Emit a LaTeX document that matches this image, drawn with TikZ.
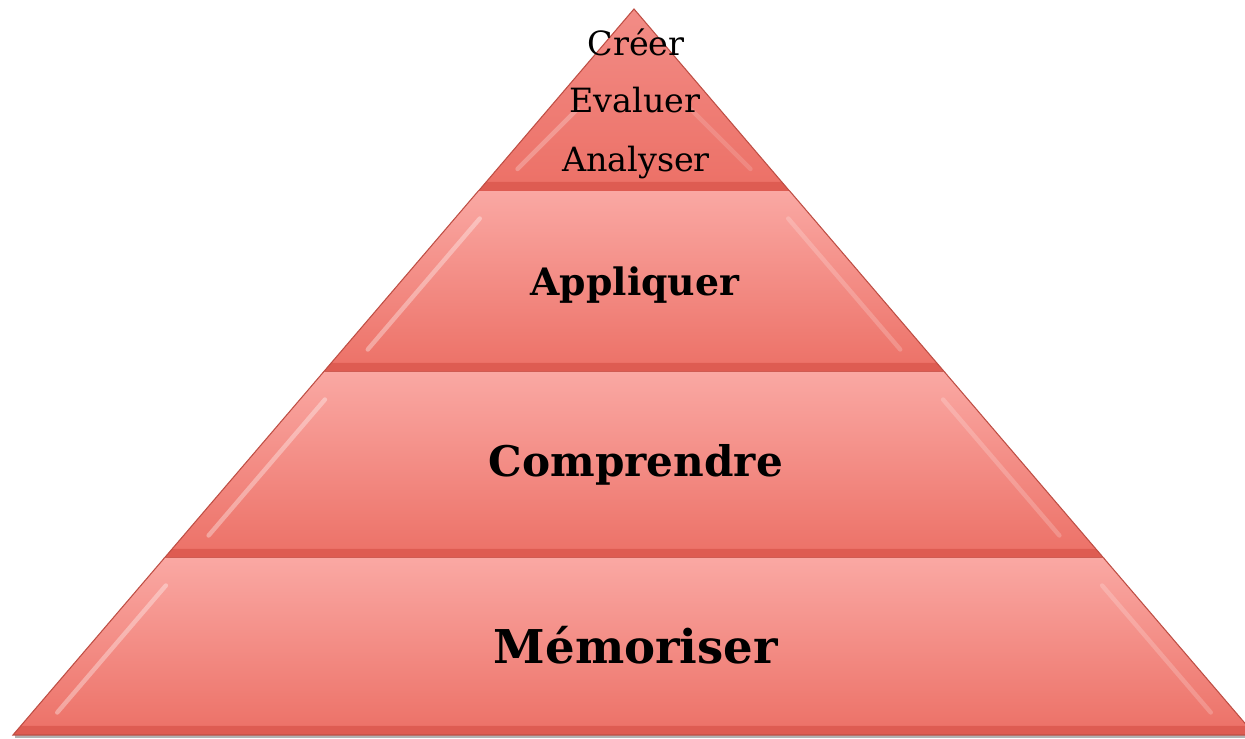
\documentclass[tikz,border=0pt]{standalone}
\usepackage{fontspec}
\setmainfont{DejaVu Serif}
\usepackage{xcolor}

\definecolor{bandlight}{RGB}{250,168,163}
\definecolor{banddark}{RGB}{236,112,102}
\definecolor{bandedge}{RGB}{222,92,82}
\definecolor{bandline}{RGB}{190,78,68}
\definecolor{toplight}{RGB}{242,140,134}

\begin{document}
\begin{tikzpicture}
  \useasboundingbox (0,0) rectangle (24.9,14.78);
  \tikzstyle{layer}=[top color=bandlight,bottom color=banddark]
  \tikzstyle{rim}=[fill=bandedge]
  \tikzstyle{shine}=[white,opacity=0.35,line width=2.5pt,line cap=round]
  \tikzstyle{small}=[font=\fontsize{19}{22}\selectfont]
  \tikzstyle{big}=[font=\bfseries\fontsize{24}{28}\selectfont]
  % shadow under the base
  \draw[gray!60,line width=1.2pt] (0.3,0.05) -- (25.1,0.05);
  % the three lower layers
  \foreach \yt/\yb in {10.96/7.34, 7.34/3.62, 3.62/0.08}{
    \pgfmathsetmacro\wt{(14.6-\yt)*0.8554}
    \pgfmathsetmacro\wb{(14.6-\yb)*0.8554}
    \pgfmathsetmacro\wr{(14.6-\yb-0.18)*0.8554}
    \pgfmathsetmacro\ws{(14.6-\yt+0.55)*0.8554}
    \pgfmathsetmacro\we{(14.6-\yb-0.45)*0.8554}
    \shade[layer] (12.68-\wt,\yt) -- (12.68+\wt,\yt) -- (12.68+\wb,\yb) -- (12.68-\wb,\yb) -- cycle;
    \fill[rim] (12.68-\wr,\yb+0.18) -- (12.68+\wr,\yb+0.18) -- (12.68+\wb,\yb) -- (12.68-\wb,\yb) -- cycle;
    \draw[shine] (12.68-\ws+0.5,\yt-0.55) -- (12.68-\we+0.5,\yb+0.45);
    \draw[shine,opacity=0.2] (12.68+\ws-0.5,\yt-0.55) -- (12.68+\we-0.5,\yb+0.45);
    \draw[bandline,line width=0.6pt] (12.68-\wt,\yt) -- (12.68-\wb,\yb) -- (12.68+\wb,\yb) -- (12.68+\wt,\yt);
  }
  % top triangle, a little deeper in colour
  \shade[top color=toplight,bottom color=banddark] (12.68,14.6) -- (15.79,10.96) -- (9.57,10.96) -- cycle;
  \fill[rim] (9.72,11.14) -- (15.64,11.14) -- (15.79,10.96) -- (9.57,10.96) -- cycle;
  \draw[shine,opacity=0.25] (11.55,12.6) -- (10.35,11.4);
  \draw[shine,opacity=0.15] (13.81,12.6) -- (15.01,11.4);
  \draw[bandline,line width=0.6pt] (9.57,10.96) -- (12.68,14.6) -- (15.79,10.96);
  % labels
  \node[small] (creer) at (12.72,13.94) {Créer};
  \node[small] (evaluer) at (12.7,12.78) {Evaluer};
  \node[small] (analyser) at (12.72,11.52) {Analyser};
  \node[big,font=\bfseries\fontsize{21.5}{26}\selectfont] (appliquer) at (12.7,9.08) {Appliquer};
  \node[big] (comprendre) at (12.72,5.48) {Comprendre};
  \node[big,font=\bfseries\fontsize{26.5}{30}\selectfont] (memoriser) at (12.72,1.88) {Mémoriser};
\end{tikzpicture}
\end{document}
